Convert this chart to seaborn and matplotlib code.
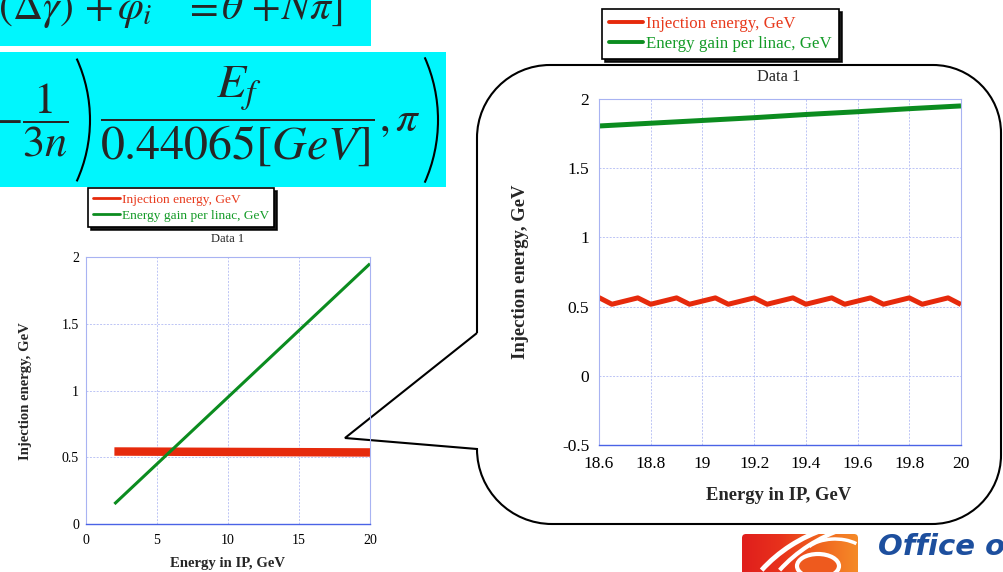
import numpy as np
import pandas as pd
import seaborn as sns
import matplotlib.pyplot as plt
from matplotlib.path import Path
from matplotlib.patches import PathPatch, Rectangle, Arc, Ellipse, FancyBboxPatch
from matplotlib.colors import LinearSegmentedColormap
from matplotlib.lines import Line2D

inj_name = "Injection energy, GeV"
gain_name = "Energy gain per linac, GeV"

# full range plot (small one)
full_gain_x = [2, 5, 10, 15, 20]
full_gain_y = [0.15, 0.45, 0.95, 1.45, 1.95]
full_inj_x = [2, 20]
full_inj_y = [0.543, 0.536]
full_xticks = [0, 5, 10, 15, 20]
full_yticks = [0, 0.5, 1, 1.5, 2]
full_yticklabels = ["0", "0.5", "1", "1.5", "2"]

# zoomed plot (in the bubble)
zoom_gain_x = [18.6, 18.8, 19.0, 19.2, 19.4, 19.6, 19.8, 20.0]
zoom_gain_y = [1.805, 1.825, 1.845, 1.865, 1.888, 1.908, 1.930, 1.950]
zoom_inj_x = [18.60, 18.65, 18.75, 18.80, 18.90, 18.95, 19.05, 19.10, 19.20, 19.25,
              19.35, 19.40, 19.50, 19.55, 19.65, 19.70, 19.80, 19.85, 19.95, 20.00]
zoom_inj_y = [0.565, 0.517, 0.563, 0.517, 0.563, 0.517, 0.563, 0.517, 0.563, 0.517,
              0.563, 0.517, 0.563, 0.517, 0.563, 0.517, 0.563, 0.517, 0.563, 0.515]
zoom_xticks = [18.6, 18.8, 19.0, 19.2, 19.4, 19.6, 19.8, 20.0]
zoom_xticklabels = ["18.6", "18.8", "19", "19.2", "19.4", "19.6", "19.8", "20"]
zoom_yticks = [-0.5, 0, 0.5, 1, 1.5, 2]
zoom_yticklabels = ["-0.5", "0", "0.5", "1", "1.5", "2"]

red = "#e62a0c"
green = "#0b8c1f"
red_txt = "#e8391c"
green_txt = "#139b27"
cyan = "#00f6fd"

sns.set_theme(style="white")
plt.rcParams['font.family'] = ['Liberation Serif', 'DejaVu Serif']
plt.rcParams['mathtext.fontset'] = 'stix'

W, H = 1004, 572
fig = plt.figure(figsize=(W / 100, H / 100), dpi=100)
fig.patch.set_facecolor('white')

# background layer in pixel coordinates
bg = fig.add_axes([0, 0, 1, 1])
bg.set_xlim(0, W)
bg.set_ylim(H, 0)
bg.axis('off')

# equation boxes (cut off on the left, like the slide)
bg.add_patch(Rectangle((0, 0), 371, 46, color=cyan, lw=0))
bg.add_patch(Rectangle((0, 52), 446, 135, color=cyan, lw=0))
eq_fs = 30
bg.text(73, 19, r'$+(\Delta\gamma)$', fontsize=eq_fs, ha='right', va='baseline')
bg.text(98, 19, r'$+$', fontsize=eq_fs, ha='center', va='baseline')
bg.text(117, 19, r'$\varphi_i$', fontsize=eq_fs, ha='left', va='baseline')
bg.text(200, 19, r'$=$', fontsize=eq_fs, ha='center', va='baseline')
bg.text(221, 19, r'$\theta$', fontsize=eq_fs, ha='left', va='baseline')
bg.text(265, 19, r'$+$', fontsize=eq_fs, ha='center', va='baseline')
bg.text(281, 19, r'$N\pi]$', fontsize=eq_fs, ha='left', va='baseline')

bg.text(-8, 120, r'$-$', fontsize=32, ha='left', va='center')
bg.text(45, 120, r'$\dfrac{1}{3n}$', fontsize=32, ha='center', va='center')
bg.text(237, 116, r'$\dfrac{E_f}{0.44065[GeV]}$', fontsize=34.5, ha='center', va='center')
bg.text(379, 131, r'$,\pi$', fontsize=31, ha='left', va='baseline')
bg.add_patch(Arc((90 - 148, 120), 296, 296, theta1=-24.5, theta2=24.5, color='black', lw=1.5))
bg.add_patch(Arc((438 - 154, 120), 308, 308, theta1=-24, theta2=24, color='black', lw=1.5))

# callout bubble with pointer to the small chart
k = 0.5523
verts = [(477, 333), (477, 138),
         (477, 138 - 73 * k), (550 - 73 * k, 65), (550, 65),
         (933, 65),
         (933 + 68 * k, 65), (1001, 133 - 68 * k), (1001, 133),
         (1001, 455),
         (1001, 455 + 69 * k), (932 + 69 * k, 524), (932, 524),
         (552, 524),
         (552 - 75 * k, 524), (477, 449 + 75 * k), (477, 449),
         (345, 438), (477, 333)]
codes = [Path.MOVETO, Path.LINETO] + [Path.CURVE4] * 3 + [Path.LINETO] + [Path.CURVE4] * 3 \
    + [Path.LINETO] + [Path.CURVE4] * 3 + [Path.LINETO] + [Path.CURVE4] * 3 + [Path.LINETO, Path.LINETO]
bg.add_patch(PathPatch(Path(verts, codes), facecolor='white', edgecolor='black', lw=1.5))

# logo
grad = np.linspace(0, 1, 100).reshape(1, -1)
cmap = LinearSegmentedColormap.from_list('lg', ['#e01e1c', '#e8321c', '#f0641f', '#f58a28'])
icon = bg.imshow(grad, extent=[742, 858, 576, 534], cmap=cmap, aspect='auto', zorder=2)
clip = FancyBboxPatch((742, 534), 116, 50, boxstyle='round,pad=0,rounding_size=4',
                      transform=bg.transData, facecolor='none', edgecolor='none')
bg.add_patch(clip)
icon.set_clip_path(clip)
for cx, lw in [(880, 3.5), (898, 3.0)]:
    a = Arc((cx, 650), 300, 260, theta1=214, theta2=246, color='white', lw=lw, zorder=3)
    bg.add_patch(a)
    a.set_clip_path(clip)
ring = Ellipse((818, 566), 42, 24, facecolor='#ee5a1e', edgecolor='white', lw=3, zorder=3)
bg.add_patch(ring)
ring.set_clip_path(clip)
top_arc = Arc((835, 556), 62, 34, theta1=200, theta2=330, color='white', lw=2.5, zorder=3)
bg.add_patch(top_arc)
top_arc.set_clip_path(clip)
bg.text(878, 555, "Office o", fontsize=21, fontweight='bold', fontstyle='italic',
        family='DejaVu Sans', color='#1d4f9e', ha='left', va='baseline')


def px_axes(l, t, r, b):
    return fig.add_axes([l / W, 1 - b / H, (r - l) / W, (b - t) / H])


def style_axes(ax, fs, xpad, ypad):
    ax.set_facecolor('none')
    for s in ax.spines.values():
        s.set_color('#a8b3f2')
        s.set_linewidth(0.8)
    ax.spines['bottom'].set_color('#4a63e6')
    ax.spines['bottom'].set_linestyle((0, (1, 1)))
    ax.spines['bottom'].set_linewidth(1.0)
    ax.grid(True, color='#bcc4f5', linestyle=(0, (2, 1.5)), linewidth=0.7)
    ax.tick_params(axis='both', length=0, labelsize=fs, colors='black')
    ax.tick_params(axis='x', pad=xpad)
    ax.tick_params(axis='y', pad=ypad)
    ax.set_xlabel('')
    ax.set_ylabel('')


# small chart
ax1 = px_axes(86, 257, 370, 524)
sns.lineplot(x=full_inj_x, y=full_inj_y, ax=ax1, color=red, linewidth=6.1,
             solid_capstyle='butt', legend=False)
sns.lineplot(x=full_gain_x, y=full_gain_y, ax=ax1, color=green, linewidth=2.2,
             solid_capstyle='butt', legend=False)
ax1.set_xlim(0, 20)
ax1.set_ylim(0, 2)
ax1.set_xticks(full_xticks, [str(v) for v in full_xticks])
ax1.set_yticks(full_yticks, full_yticklabels)
style_axes(ax1, 10, 7, 5)

# zoomed chart
ax2 = px_axes(599, 99, 961, 445)
sns.lineplot(x=zoom_inj_x, y=zoom_inj_y, ax=ax2, color=red, linewidth=3.6,
             solid_capstyle='butt', legend=False)
sns.lineplot(x=zoom_gain_x, y=zoom_gain_y, ax=ax2, color=green, linewidth=3.6,
             solid_capstyle='butt', legend=False)
ax2.set_xlim(18.6, 20)
ax2.set_ylim(-0.5, 2)
ax2.set_xticks(zoom_xticks, zoom_xticklabels)
ax2.set_yticks(zoom_yticks, zoom_yticklabels)
style_axes(ax2, 12.5, 8, 7)

# titles and axis labels
bg.text(228, 239, "Data 1", fontsize=9, ha='center', va='center')
bg.text(779, 77, "Data 1", fontsize=11.7, ha='center', va='center')
bg.text(228, 563, "Energy in IP, GeV", fontsize=10.6, fontweight='bold', ha='center', va='center')
bg.text(779, 496, "Energy in IP, GeV", fontsize=13.4, fontweight='bold', ha='center', va='center')
bg.text(26, 391, "Injection energy, GeV", fontsize=10.6, fontweight='bold', rotation=90,
        ha='center', va='center')
bg.text(521, 272, "Injection energy, GeV", fontsize=13.4, fontweight='bold', rotation=90,
        ha='center', va='center')


# legends
def add_legend(l, t, fs, lw, bpad, lspace, tpad):
    handles = [Line2D([0], [0], color=red, lw=lw), Line2D([0], [0], color=green, lw=lw)]
    leg = fig.legend(handles, [inj_name, gain_name], loc='upper left',
                     bbox_to_anchor=(l / W, 1 - t / H), fontsize=fs, frameon=True,
                     fancybox=False, shadow={'color': 'black', 'alpha': 0.9},
                     borderpad=bpad, labelspacing=lspace,
                     handlelength=2.0, handletextpad=tpad, borderaxespad=0,
                     labelcolor=[red_txt, green_txt])
    leg.get_frame().set_edgecolor('black')
    leg.get_frame().set_linewidth(1.2)
    return leg


add_legend(88, 188, 9.6, 2.0, 0.4, 0.27, 0.15)
add_legend(602, 9, 12.2, 2.8, 0.42, 0.25, 0.18)

fig.savefig('out.png', dpi=100)
